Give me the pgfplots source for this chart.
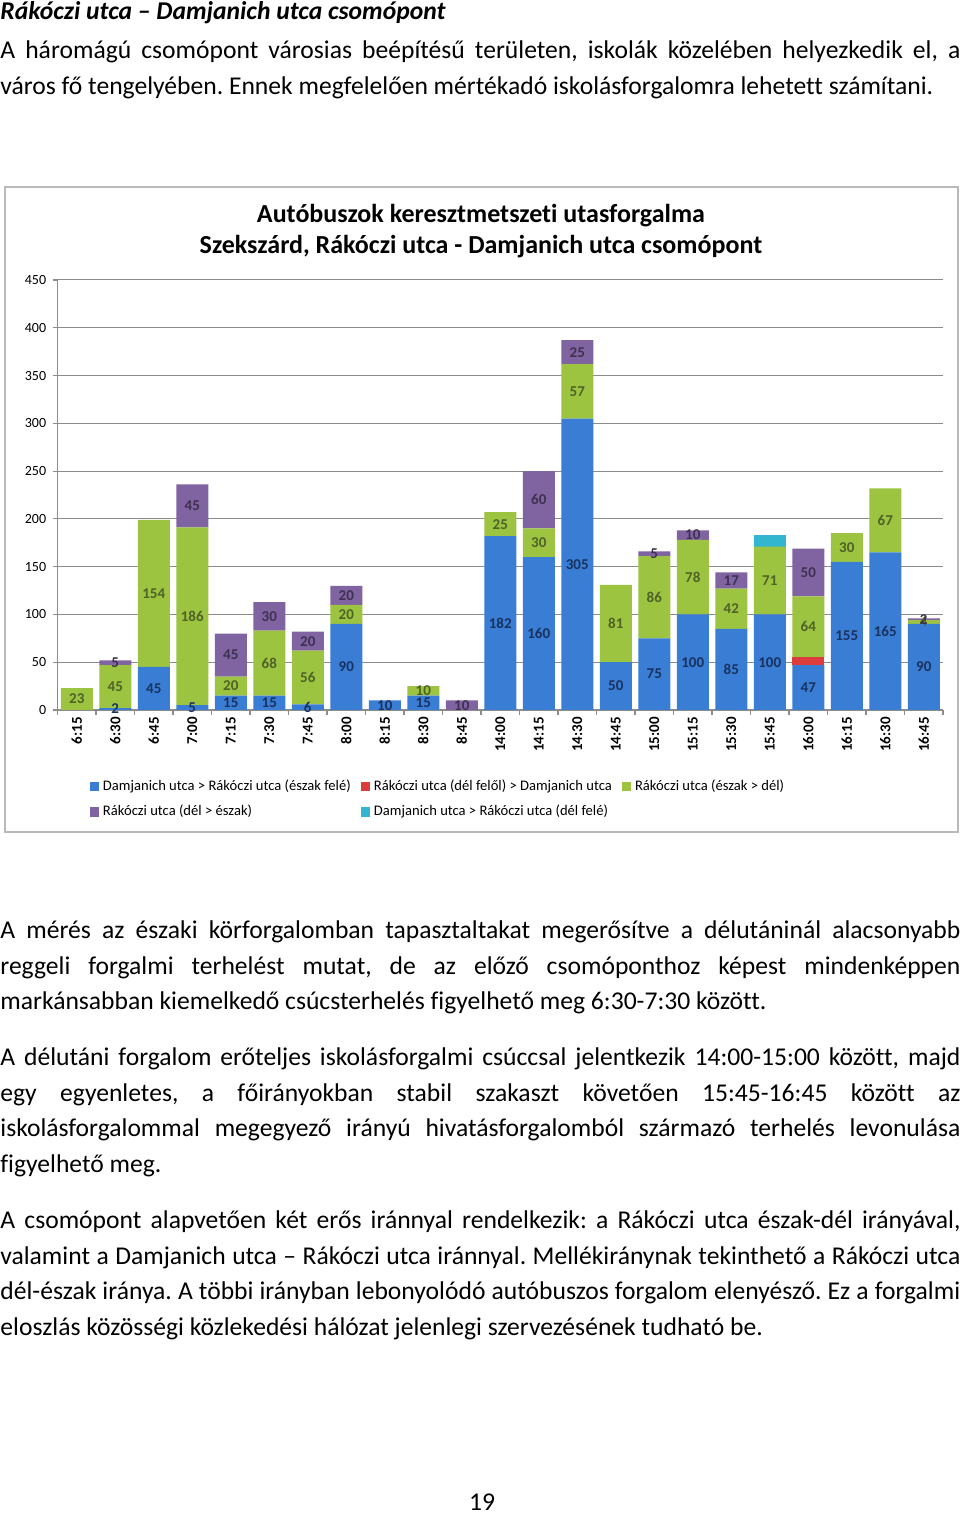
\documentclass[border=0pt]{standalone}
\usepackage{pgfplots}
\pgfplotsset{compat=1.18}
\usepackage{pgfplotstable}
\usepackage{fontspec}
\setmainfont{Carlito}[Ligatures=NoCommon]
\definecolor{cblue}{RGB}{58,125,212}
\definecolor{cred}{RGB}{220,60,60}
\definecolor{cgreen}{RGB}{156,196,64}
\definecolor{cpurple}{RGB}{128,100,162}
\definecolor{ccyan}{RGB}{50,182,208}
\definecolor{lblue}{RGB}{25,50,95}
\definecolor{lgreen}{RGB}{79,98,40}
\definecolor{lpurple}{RGB}{63,49,81}
\definecolor{gridc}{RGB}{140,140,140}
\definecolor{boxc}{RGB}{185,185,185}

\pgfplotstableread{
x b r g p c
0 0 0 23 0 0
1 2 0 45 5 0
2 45 0 154 0 0
3 5 0 186 45 0
4 15 0 20 45 0
5 15 0 68 30 0
6 6 0 56 20 0
7 90 0 20 20 0
8 10 0 0 0 0
9 15 0 10 0 0
10 0 0 0 10 0
11 182 0 25 0 0
12 160 0 30 60 0
13 305 0 57 25 0
14 50 0 81 0 0
15 75 0 86 5 0
16 100 0 78 10 0
17 85 0 42 17 0
18 100 0 71 0 12
19 47 8 64 50 0
20 155 0 30 0 0
21 165 0 67 0 0
22 90 0 4 2 0
}\bars

\pgfplotstableread{
x y l
1 1 2
2 22.5 45
3 2.5 5
4 7.5 15
5 7.5 15
6 3 6
7 45 90
8 5 10
9 7.5 15
11 91 182
12 80 160
13 152.5 305
14 25 50
15 37.5 75
16 50 100
17 42.5 85
18 50 100
19 23.5 47
20 77.5 155
21 82.5 165
22 45 90
}\lblbl

\pgfplotstableread{
x y l
0 11.5 23
1 24.5 45
2 122 154
3 98 186
4 25 20
5 49 68
6 34 56
7 100 20
9 20 10
11 194.5 25
12 175 30
13 333.5 57
14 90.5 81
15 118 86
16 139 78
17 106 42
18 135.5 71
19 87 64
20 170 30
21 198.5 67
22 92 4
}\lblgr

\pgfplotstableread{
x y l
1 49.5 5
3 213.5 45
4 57.5 45
5 98 30
6 72 20
7 120 20
10 5 10
12 220 60
13 374.5 25
15 163.5 5
16 183 10
17 135.5 17
19 144 50
22 95 2
}\lblpu

\pgfplotsset{
  sqleg/.style={legend image code/.code={\fill[##1] (0pt,-2.3pt) rectangle (4.6pt,2.3pt);}},
}

\begin{document}
\frenchspacing
\begin{tikzpicture}[x=0.5pt,y=0.5pt]
\useasboundingbox (0,0) rectangle (960,1515);
\fill[white] (0,0) rectangle (960,1515);

% heading and text
\node[anchor=base west, inner sep=0pt, font=\fontsize{12.8}{16}\selectfont\bfseries\itshape] at (0,1495) {Rákóczi utca – Damjanich utca csomópont};

\node[anchor=base west, inner sep=0pt, text width=480pt, align=justify, font=\fontsize{12.8}{17.75}\selectfont] at (0,1456)
{A háromágú csomópont városias beépítésű területen, iskolák közelében helyezkedik el, a\linebreak
város fő tengelyében. Ennek megfelelően mértékadó iskolásforgalomra lehetett számítani.};

\node[anchor=base west, inner sep=0pt, text width=480pt, align=justify, font=\fontsize{12.8}{17.75}\selectfont] at (0,576)
{A mérés az északi körforgalomban tapasztaltakat megerősítve a délutáninál alacsonyabb\linebreak
reggeli forgalmi terhelést mutat, de az előző csomóponthoz képest mindenképpen\linebreak
markánsabban kiemelkedő csúcsterhelés figyelhető meg 6:30-7:30 között.};

\node[anchor=base west, inner sep=0pt, text width=480pt, align=justify, font=\fontsize{12.8}{17.75}\selectfont] at (0,449)
{A délutáni forgalom erőteljes iskolásforgalmi csúccsal jelentkezik 14:00-15:00 között, majd\linebreak
egy egyenletes, a főirányokban stabil szakaszt követően 15:45-16:45 között az\linebreak
iskolásforgalommal megegyező irányú hivatásforgalomból származó terhelés levonulása\linebreak
figyelhető meg.};

\node[anchor=base west, inner sep=0pt, text width=480pt, align=justify, font=\fontsize{12.8}{17.75}\selectfont] at (0,286)
{A csomópont alapvetően két erős iránnyal rendelkezik: a Rákóczi utca észak-dél irányával,\linebreak
valamint a Damjanich utca – Rákóczi utca iránnyal. Mellékiránynak tekinthető a Rákóczi utca\linebreak
dél-észak iránya. A többi irányban lebonyolódó autóbuszos forgalom elenyésző. Ez a forgalmi\linebreak
eloszlás közösségi közlekedési hálózat jelenlegi szervezésének tudható be.};

\node[anchor=base, inner sep=0pt, font=\fontsize{12.8}{14}\selectfont] at (482,4) {19};

% chart frame
\draw[boxc, line width=0.6pt] (5,1328) rectangle (958,683);
\node[anchor=base, inner sep=0pt, font=\fontsize{13}{16}\selectfont\bfseries] at (481,1292) {Autóbuszok keresztmetszeti utasforgalma};
\node[anchor=base, inner sep=0pt, font=\fontsize{13}{16}\selectfont\bfseries] at (481,1261) {Szekszárd, Rákóczi utca - Damjanich utca csomópont};

\begin{axis}[
  at={(28.75pt,402.5pt)}, anchor=south west,
  scale only axis, width=442.75pt, height=215pt,
  ybar stacked, bar width=16pt,
  xmin=-0.5, xmax=22.5, ymin=0, ymax=450,
  axis x line*=bottom, axis y line*=left,
  axis line style={gridc, line width=0.6pt},
  ytick={0,50,...,450},
  ymajorgrids, grid style={gridc, line width=0.5pt},
  xtick={-0.5,0.5,...,22.5},
  x tick label as interval,
  xticklabels={6:15,6:30,6:45,7:00,7:15,7:30,7:45,8:00,8:15,8:30,8:45,14:00,14:15,14:30,14:45,15:00,15:15,15:30,15:45,16:00,16:15,16:30,16:45,{}},
  tick align=outside,
  tick style={gridc, line width=0.6pt},
  major tick length=2.5pt,
  x tick label style={rotate=90, anchor=east, font=\bfseries\fontsize{7.5}{8}\selectfont, inner sep=1pt},
  y tick label style={font=\fontsize{7}{8}\selectfont, inner sep=1pt, xshift=-2pt},
  /pgf/number format/assume math mode=true,
  legend columns=3,
  legend cell align=left,
  legend style={at={(0.036,-0.156)}, anchor=north west, draw=none, fill=none,
    inner sep=0pt, font=\fontsize{7.3}{8}\selectfont,
    nodes={inner sep=1pt},
    row sep=4pt,
    /tikz/every odd column/.append style={column sep=1pt},
    /tikz/every even column/.append style={column sep=4pt}},
]
\addplot[fill=cblue, draw=none, sqleg] table[x=x,y=b]{\bars};
\addlegendentry{Damjanich utca > Rákóczi utca (észak felé)}
\addplot[fill=cred, draw=none, sqleg] table[x=x,y=r]{\bars};
\addlegendentry{Rákóczi utca (dél felől) > Damjanich utca}
\addplot[fill=cgreen, draw=none, sqleg] table[x=x,y=g]{\bars};
\addlegendentry{Rákóczi utca (észak > dél)}
\addplot[fill=cpurple, draw=none, sqleg] table[x=x,y=p]{\bars};
\addlegendentry{Rákóczi utca (dél > észak)}
\addplot[fill=ccyan, draw=none, sqleg] table[x=x,y=c]{\bars};
\addlegendentry{Damjanich utca > Rákóczi utca (dél felé)}
\end{axis}

\begin{axis}[
  at={(28.75pt,402.5pt)}, anchor=south west,
  scale only axis, width=442.75pt, height=215pt,
  xmin=-0.5, xmax=22.5, ymin=0, ymax=450,
  hide axis, clip=false,
  nodes near coords, point meta=explicit symbolic,
  every node near coord/.append style={anchor=center, inner sep=0pt, font=\bfseries\fontsize{7.5}{8}\selectfont},
]
\addplot[draw=none, mark=none, every node near coord/.append style={text=lblue}] table[x=x,y=y,meta=l]{\lblbl};
\addplot[draw=none, mark=none, every node near coord/.append style={text=lgreen}] table[x=x,y=y,meta=l]{\lblgr};
\addplot[draw=none, mark=none, every node near coord/.append style={text=lpurple}] table[x=x,y=y,meta=l]{\lblpu};
\end{axis}
\end{tikzpicture}
\end{document}
